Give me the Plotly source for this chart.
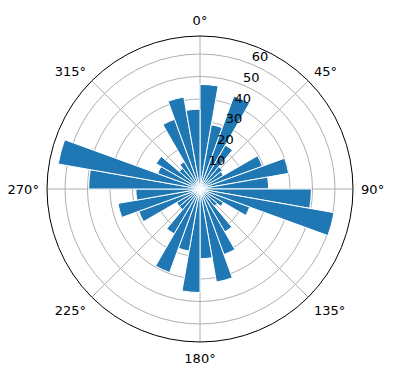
import plotly.graph_objects as go

# direction centres (degrees, clockwise from north)
directions = [5, 15, 25, 35, 45, 55, 65, 75, 85, 95, 105, 115,
              125, 135, 145, 155, 165, 175, 185, 195, 205, 215, 225, 235,
              245, 255, 265, 275, 285, 295, 305, 315, 325, 335, 345, 355]
radii = [46.5, 29, 44, 22.5, 13, 12, 29.5, 40, 30.5, 49.5, 60.5, 23.5,
         12, 10, 22, 31, 42, 31, 46, 28, 39.5, 23, 12, 12,
         29, 37, 28.5, 49.5, 64, 20, 22.5, 12, 14, 33, 41.5, 35.5]
angle_ticks = [0, 45, 90, 135, 180, 225, 270, 315]
angle_labels = ["0°", "45°", "90°", "135°", "180°", "225°", "270°", "315°"]
radial_ticks = [10, 20, 30, 40, 50, 60]
radial_label_angle = 22.5

fig = go.Figure()
fig.add_trace(go.Barpolar(
    r=radii,
    theta=directions,
    width=[10] * len(directions),
    marker=dict(color="#1f77b4", line=dict(color="white", width=1)),
    showlegend=False,
))
# radial tick labels, placed like matplotlib (left/bottom aligned at 22.5°)
fig.add_trace(go.Scatterpolar(
    r=radial_ticks,
    theta=[radial_label_angle] * len(radial_ticks),
    mode="text",
    text=[str(v) for v in radial_ticks],
    textposition="top right",
    textfont=dict(family="DejaVu Sans", size=13, color="black"),
    hoverinfo="skip",
    showlegend=False,
))

W, H = 396, 380
cx, cy, R = 200, 189, 153
fig.update_layout(
    width=W, height=H,
    margin=dict(l=0, r=0, t=0, b=0),
    paper_bgcolor="white",
    font=dict(family="DejaVu Sans", size=13, color="black"),
    polar=dict(
        domain=dict(x=[(cx - R) / W, (cx + R) / W],
                    y=[(H - cy - R) / H, (H - cy + R) / H]),
        bgcolor="white",
        angularaxis=dict(
            rotation=90, direction="clockwise",
            tickmode="array", tickvals=angle_ticks, ticktext=angle_labels,
            showline=True, linecolor="black", linewidth=1,
            showgrid=True, gridcolor="#b0b0b0", gridwidth=0.8,
            ticks="outside", ticklen=5, tickcolor="rgba(0,0,0,0)",
            layer="above traces",
            tickfont=dict(family="DejaVu Sans", size=13, color="black"),
        ),
        radialaxis=dict(
            range=[0, 68],
            tickmode="array", tickvals=radial_ticks,
            showline=False, ticks="", showticklabels=False,
            showgrid=True, gridcolor="#b0b0b0", gridwidth=0.8,
            layer="above traces",
        ),
    ),
)

fig.write_html("out.html")
